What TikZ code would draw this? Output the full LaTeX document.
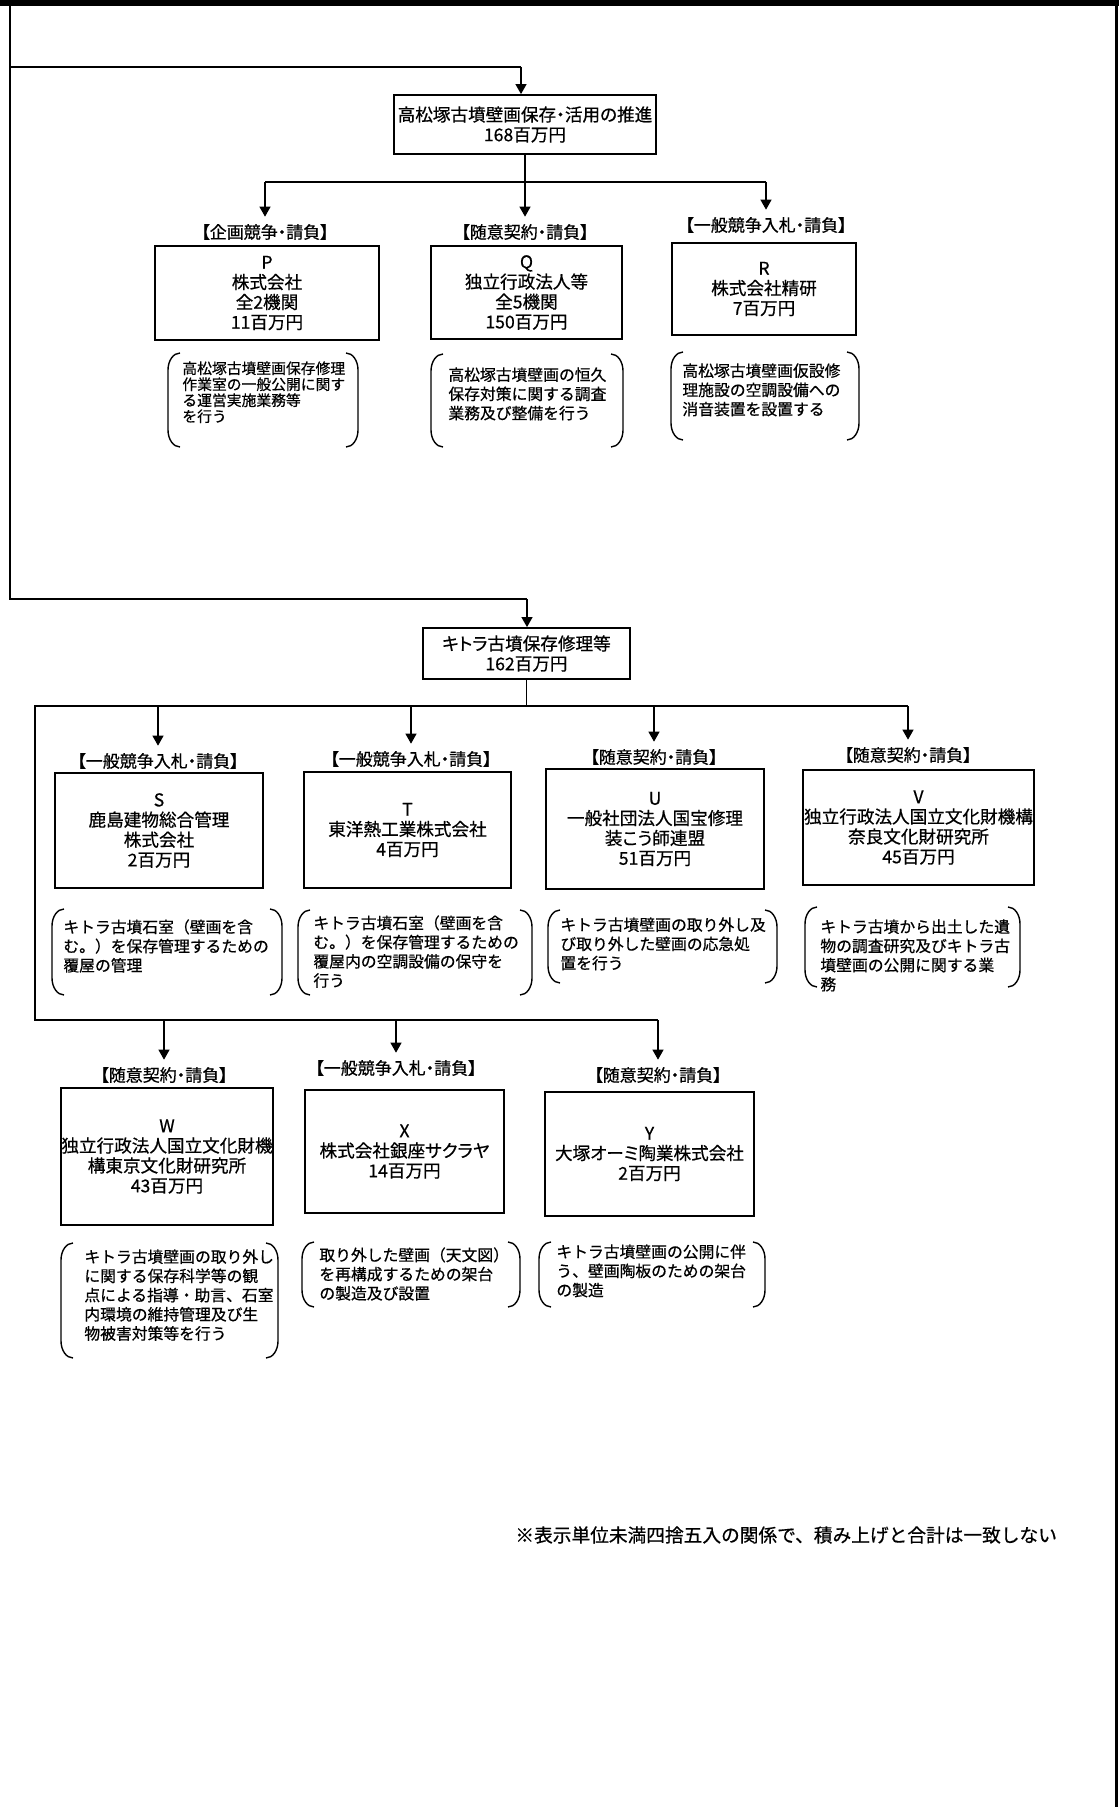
\documentclass[tikz,border=0pt]{standalone}
\usepackage{fontspec}
\setmainfont{Noto Sans CJK JP}[RawFeature=+palt, FakeBold=0.6]
\newfontfamily\plainjp{Noto Sans CJK JP}[FakeBold=0.6]
\usetikzlibrary{positioning,arrows.meta}

\tikzset{
  box/.style={draw, line width=0.9pt, align=center, inner sep=0pt,
    font=\fontsize{8.8pt}{10pt}\selectfont},
  kind/.style={inner sep=1.5pt, font=\fontsize{8.5pt}{9pt}\selectfont},
  memo/.style={anchor=north west, align=left, inner sep=0pt,
    font=\plainjp\fontsize{7.9pt}{9.6pt}\selectfont},
  wire/.style={line width=0.6pt},
  arr/.style={wire, -{Triangle[length=5pt,width=5.5pt]}},
  karr/.style={arr, shorten >=2pt},
  bracket/.style={line width=0.7pt},
}

% a pair of round brackets round a memo: left, top, right, bottom
\newcommand{\memobrackets}[4]{%
  \draw[bracket] (#1+12,#2) .. controls (#1+5.4,#2) and (#1,#2+7.6) .. (#1,#2+17)
    -- (#1,#4-17) .. controls (#1,#4-7.6) and (#1+5.4,#4) .. (#1+12,#4);
  \draw[bracket] (#3-12,#2) .. controls (#3-5.4,#2) and (#3,#2+7.6) .. (#3,#2+17)
    -- (#3,#4-17) .. controls (#3,#4-7.6) and (#3-5.4,#4) .. (#3-12,#4);
}

\begin{document}
\begin{tikzpicture}[x=0.5pt,y=-0.5pt]
\useasboundingbox (0,0) rectangle (1119,1807);

% page frame
\fill (0,0) rectangle (1119,6);
\draw[line width=1.5pt] (1116,0) -- (1116,1807);

% Takamatsu
\node[box, minimum width=131pt, minimum height=29.5pt] (taka) at (525,124.5)
  {高松塚古墳壁画保存・活用の推進\\168百万円};
\coordinate (frTop) at (10,0);
\coordinate (frA) at (10,67);
\coordinate (frB) at (10,599);
\coordinate (takaIn) at (521,67);
\coordinate (kitIn) at (527,599);
\draw[wire] (frTop) -- (frB) -- (kitIn);
\draw[wire] (frA) -- (takaIn);
\draw[arr] (takaIn) -- (takaIn |- taka.north);

\path (taka.south) ++(0,28) coordinate (tb);
\coordinate (tbL) at (265,182);
\coordinate (tbR) at (766,182);
\draw[wire] (taka.south) -- (tb);
\draw[wire] (tbL) -- (tbR);

\node[kind] (pK) at (265,232) {【企画競争・請負】};
\node[kind] (qK) at (525,232) {【随意契約・請負】};
\node[kind] (rK) at (766,225) {【一般競争入札・請負】};
\draw[karr] (tbL) -- (pK);
\draw[karr] (tb) -- (qK);
\draw[karr] (tbR) -- (rK);

\node[box, minimum width=112pt, minimum height=47pt] (pB) at (267,293)
  {P\\株式会社\\全2機関\\11百万円};
\node[box, minimum width=95.5pt, minimum height=46.5pt] (qB) at (526.5,292.5)
  {Q\\独立行政法人等\\全5機関\\150百万円};
\node[box, minimum width=92pt, minimum height=46pt] (rB) at (764,289)
  {R\\株式会社精研\\7百万円};

\node[memo, font=\plainjp\fontsize{7.4pt}{8pt}\selectfont] (pM) at (182,361)
  {高松塚古墳壁画保存修理\\作業室の一般公開に関す\\る運営実施業務等\\を行う};
\memobrackets{168}{353}{358}{447}
\node[memo] (qM) at (448,367)
  {高松塚古墳壁画の恒久\\保存対策に関する調査\\業務及び整備を行う};
\memobrackets{431}{354}{623}{447}
\node[memo] (rM) at (682,363)
  {高松塚古墳壁画仮設修\\理施設の空調設備への\\消音装置を設置する};
\memobrackets{671}{352}{859}{440}

% Kitora
\node[box, minimum width=103.5pt, minimum height=25.5pt] (kit) at (526.5,653.5)
  {キトラ古墳保存修理等\\162百万円};
\draw[arr] (kitIn) -- (kitIn |- kit.north);

\path (kit.south) ++(0,27) coordinate (kb);
\coordinate (kbL) at (35,706);
\coordinate (kbR) at (908,706);
\coordinate (sTop) at (158,706);
\coordinate (tTop) at (411,706);
\coordinate (uTop) at (654,706);
\coordinate (lbL) at (35,1020);
\coordinate (wTop) at (164,1020);
\coordinate (xTop) at (396,1020);
\coordinate (yTop) at (658,1020);
\draw[wire] (kit.south) -- (kb);
\draw[wire] (kbR) -- (kbL) -- (lbL) -- (yTop);

\node[kind] (sK) at (158,761) {【一般競争入札・請負】};
\node[kind] (tK) at (411,759) {【一般競争入札・請負】};
\node[kind] (uK) at (654,757) {【随意契約・請負】};
\node[kind] (vK) at (908,755) {【随意契約・請負】};
\draw[karr] (sTop) -- (sK);
\draw[karr] (tTop) -- (tK);
\draw[karr] (uTop) -- (uK);
\draw[karr] (kbR) -- (vK);

\node[box, minimum width=104pt, minimum height=57.5pt] (sB) at (159,830.5)
  {S\\鹿島建物総合管理\\株式会社\\2百万円};
\node[box, minimum width=103.5pt, minimum height=58pt] (tB) at (407.5,830)
  {T\\東洋熱工業株式会社\\4百万円};
\node[box, minimum width=109pt, minimum height=60pt] (uB) at (655,829)
  {U\\一般社団法人国宝修理\\装こう師連盟\\51百万円};
\node[box, minimum width=115.5pt, minimum height=57.5pt] (vB) at (918.5,827.5)
  {V\\独立行政法人国立文化財機構\\奈良文化財研究所\\45百万円};

\node[memo] (sM) at (63,919)
  {キトラ古墳石室（壁画を含\\む。）を保存管理するための\\覆屋の管理};
\memobrackets{52}{909}{282}{995}
\node[memo] (tM) at (313,915)
  {キトラ古墳石室（壁画を含\\む。）を保存管理するための\\覆屋内の空調設備の保守を\\行う};
\memobrackets{298}{910}{532}{995}
\node[memo] (uM) at (560,917)
  {キトラ古墳壁画の取り外し及\\び取り外した壁画の応急処\\置を行う};
\memobrackets{548}{910}{777}{983}
\node[memo] (vM) at (820,919)
  {キトラ古墳から出土した遺\\物の調査研究及びキトラ古\\墳壁画の公開に関する業\\務};
\memobrackets{805}{907}{1020}{987}

\node[kind] (wK) at (164,1075) {【随意契約・請負】};
\node[kind] (xK) at (396,1068) {【一般競争入札・請負】};
\node[kind] (yK) at (658,1075) {【随意契約・請負】};
\draw[karr] (wTop) -- (wK);
\draw[karr] (xTop) -- (xK);
\draw[karr] (yTop) -- (yK);

\node[box, minimum width=106pt, minimum height=68.5pt] (wB) at (167,1156.5)
  {W\\独立行政法人国立文化財機\\構東京文化財研究所\\43百万円};
\node[box, minimum width=99.5pt, minimum height=61.5pt] (xB) at (404.5,1151.5)
  {X\\株式会社銀座サクラヤ\\14百万円};
\node[box, minimum width=104.5pt, minimum height=62pt] (yB) at (649.5,1154)
  {Y\\大塚オーミ陶業株式会社\\2百万円};

\node[memo] (wM) at (84,1249)
  {キトラ古墳壁画の取り外し\\に関する保存科学等の観\\点による指導・助言、石室\\内環境の維持管理及び生\\物被害対策等を行う};
\memobrackets{61}{1243}{278}{1358}
\node[memo] (xM) at (319,1247)
  {取り外した壁画（天文図）\\を再構成するための架台\\の製造及び設置};
\memobrackets{302}{1242}{520}{1307}
\node[memo] (yM) at (556,1244)
  {キトラ古墳壁画の公開に伴\\う、壁画陶板のための架台\\の製造};
\memobrackets{539}{1242}{765}{1307}

\node[anchor=west, inner sep=0pt, font=\plainjp\fontsize{9.35pt}{10pt}\selectfont] (foot) at (515,1535)
  {※表示単位未満四捨五入の関係で、積み上げと合計は一致しない};
\end{tikzpicture}
\end{document}
